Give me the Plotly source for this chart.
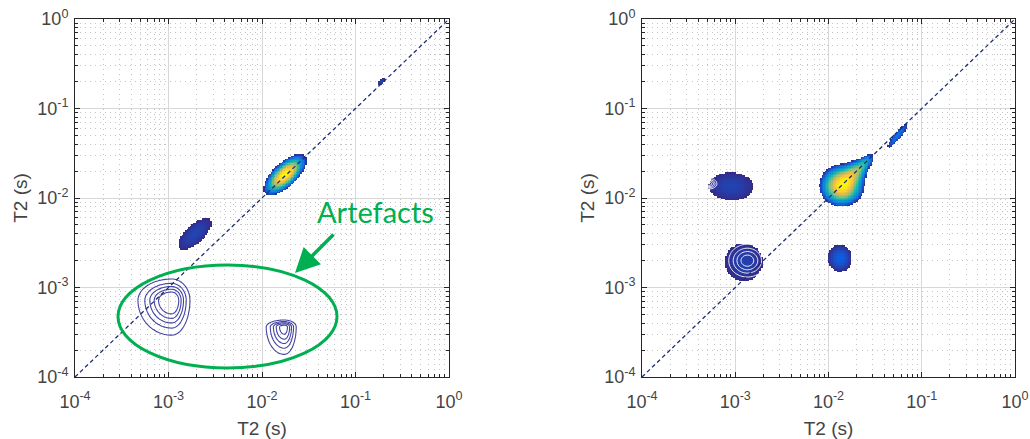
import numpy as np
import plotly.graph_objects as go

# ---------------- axis definitions ----------------
AXIS_DECADES = [-4, -3, -2, -1, 0]          # log10(T2 / s)
TICK_LABELS = ["10<sup>-4</sup>", "10<sup>-3</sup>", "10<sup>-2</sup>",
               "10<sup>-1</sup>", "10<sup>0</sup>"]
AXIS_TITLE = "T2 (s)"
DIAGONAL_T2 = [1e-4, 1.0]

# ---------------- peak components ----------------
# position in log10(T2), sigma along / across the direction "ANG" (deg), amplitude
# Left panel, filled (colour) peaks
LEFT_FILL_X = [-1.757, -2.72, -0.724]
LEFT_FILL_Y = [-1.737, -2.40, -0.700]
LEFT_FILL_SA = [0.125, 0.30, 0.057]
LEFT_FILL_SB = [0.055, 0.132, 0.036]
LEFT_FILL_ANG = [45, 45, 45]
LEFT_FILL_AMP = [1.0, 0.08, 0.08]

# Left panel, artefacts (line contours): peak position and one-sided widths
LEFT_ART_X = [-2.966, -1.761]
LEFT_ART_Y = [-3.143, -3.44]
LEFT_ART_SX_LEFT = [0.185, 0.104]
LEFT_ART_SX_RIGHT = [0.10, 0.068]
LEFT_ART_SY_DOWN = [0.20, 0.165]
LEFT_ART_SY_UP = [0.122, 0.041]
LEFT_ART_AMP = [1.0, 0.85]
ART_LEVELS = [0.15, 0.30, 0.45, 0.60, 0.75]

# Right panel, filled peaks
RIGHT_FILL_X = [-1.86, -1.74, -1.62, -1.26, -3.05, -2.91, -1.88]
RIGHT_FILL_Y = [-1.86, -1.73, -1.61, -1.30, -1.855, -2.715, -2.67]
RIGHT_FILL_SA = [0.105, 0.10, 0.08, 0.14, 0.344, 0.30, 0.135]
RIGHT_FILL_SB = [0.105, 0.06, 0.035, 0.03, 0.21, 0.314, 0.156]
RIGHT_FILL_ANG = [45, 45, 45, 52, 0, 0, 0]
RIGHT_FILL_AMP = [0.80, 0.40, 0.20, 0.125, 0.075, 0.075, 0.095]

# Right panel, white contour lines inside two dark peaks
RIGHT_LINE_X = [-2.87, -3.28]
RIGHT_LINE_Y = [-2.70, -1.84]
RIGHT_LINE_SA = [0.12, 0.05]
RIGHT_LINE_SB = [0.11, 0.035]
RIGHT_LINE_ANG = [0, 0]
RIGHT_LINE_AMP = [1.0, 1.0]

FILL_THRESHOLD = 0.06

PARULA = [[0.0, "#352a87"], [0.04, "#0f5cdd"], [0.10, "#1481d6"],
          [0.18, "#06a4ca"], [0.28, "#2eb7a4"], [0.40, "#87bf77"],
          [0.55, "#d1bb59"], [0.72, "#fec832"], [1.0, "#f9fb0e"]]

GRID = np.linspace(AXIS_DECADES[0], AXIS_DECADES[-1], 241)
GX, GY = np.meshgrid(GRID, GRID)


def surface(xs, ys, sas, sbs, angs, amps):
    z = np.zeros_like(GX)
    for cx, cy, sa, sb, ang, amp in zip(xs, ys, sas, sbs, angs, amps):
        th = np.deg2rad(ang)
        dx, dy = GX - cx, GY - cy
        u = dx * np.cos(th) + dy * np.sin(th)
        v = -dx * np.sin(th) + dy * np.cos(th)
        z += amp * np.exp(-0.5 * ((u / sa) ** 2 + (v / sb) ** 2))
    return z


def split_surface(xs, ys, sxl, sxr, syd, syu, amps):
    z = np.zeros_like(GX)
    for cx, cy, a, b, c, d, amp in zip(xs, ys, sxl, sxr, syd, syu, amps):
        dx, dy = GX - cx, GY - cy
        sx = np.where(dx < 0, a, b)
        sy = np.where(dy < 0, c, d)
        z += amp * np.exp(-0.5 * ((dx / sx) ** 2 + (dy / sy) ** 2))
    return z


def masked(z):
    zz = z.copy()
    zz[zz < FILL_THRESHOLD] = np.nan
    return zz


zl = surface(LEFT_FILL_X, LEFT_FILL_Y, LEFT_FILL_SA, LEFT_FILL_SB, LEFT_FILL_ANG, LEFT_FILL_AMP)
za = split_surface(LEFT_ART_X, LEFT_ART_Y, LEFT_ART_SX_LEFT, LEFT_ART_SX_RIGHT,
                   LEFT_ART_SY_DOWN, LEFT_ART_SY_UP, LEFT_ART_AMP)
zr = surface(RIGHT_FILL_X, RIGHT_FILL_Y, RIGHT_FILL_SA, RIGHT_FILL_SB, RIGHT_FILL_ANG, RIGHT_FILL_AMP)
zw = surface(RIGHT_LINE_X, RIGHT_LINE_Y, RIGHT_LINE_SA, RIGHT_LINE_SB, RIGHT_LINE_ANG, RIGHT_LINE_AMP)

fig = go.Figure()

fig.add_trace(go.Heatmap(x=GRID, y=GRID, z=masked(zl), colorscale=PARULA,
                         zmin=FILL_THRESHOLD, zmax=float(zl.max()), showscale=False,
                         hoverinfo="skip", xaxis="x", yaxis="y"))
art_step = ART_LEVELS[1] - ART_LEVELS[0]
fig.add_trace(go.Contour(x=GRID, y=GRID, z=za, showscale=False, hoverinfo="skip",
                         contours=dict(coloring="lines", start=ART_LEVELS[0],
                                       end=ART_LEVELS[-1], size=art_step),
                         colorscale=[[0, "#4343a3"], [1, "#4343a3"]],
                         line=dict(width=1.1), xaxis="x", yaxis="y"))

fig.add_trace(go.Heatmap(x=GRID, y=GRID, z=masked(zr), colorscale=PARULA,
                         zmin=FILL_THRESHOLD, zmax=float(zr.max()), showscale=False,
                         hoverinfo="skip", xaxis="x2", yaxis="y2"))
fig.add_trace(go.Contour(x=GRID, y=GRID, z=zw, showscale=False, hoverinfo="skip",
                         contours=dict(coloring="lines", start=0.25, end=0.9, size=0.2),
                         colorscale=[[0, "white"], [1, "white"]],
                         line=dict(width=0.9), xaxis="x2", yaxis="y2"))

diag = np.log10(DIAGONAL_T2)
for xa, ya in (("x", "y"), ("x2", "y2")):
    fig.add_trace(go.Scatter(x=diag, y=diag, mode="lines", hoverinfo="skip",
                             line=dict(color="#1c2f72", width=1.3, dash="4px,3px"),
                             xaxis=xa, yaxis=ya, showlegend=False))

MINOR = [float(np.log10(k * 10.0 ** n)) for n in AXIS_DECADES[:-1] for k in range(2, 10)]
FONT = "Liberation Sans, Arial, sans-serif"


def axis_style(domain, anchor, is_x):
    return dict(domain=domain, anchor=anchor, range=[AXIS_DECADES[0], AXIS_DECADES[-1]],
                tickvals=AXIS_DECADES, ticktext=TICK_LABELS, showline=True, mirror="ticks",
                linecolor="#262626", linewidth=1, ticks="inside", ticklen=5,
                tickcolor="#262626", showgrid=True, gridcolor="#d8d8d8", gridwidth=1,
                zeroline=False, fixedrange=True, automargin=False,
                ticklabelstandoff=8 if is_x else 2,
                tickfont=dict(family=FONT, size=18, color="#444444"),
                title=dict(text=AXIS_TITLE, font=dict(family=FONT, size=19, color="#444444"),
                           standoff=12 if is_x else 4),
                minor=dict(tickvals=MINOR, showgrid=True, griddash="1px,4px",
                           gridcolor="#c4c4c4", gridwidth=1, ticks="inside",
                           ticklen=3, tickcolor="#262626"))


W, H = 1030, 439
ydom = [(H - 377) / H, (H - 19) / H]
fig.update_layout(
    width=W, height=H, margin=dict(l=0, r=0, t=0, b=0),
    paper_bgcolor="white", plot_bgcolor="white", showlegend=False,
    xaxis=axis_style([75 / W, 449 / W], "y", True),
    yaxis=axis_style(ydom, "x", False),
    xaxis2=axis_style([642 / W, 1015 / W], "y2", True),
    yaxis2=axis_style(ydom, "x2", False),
    shapes=[dict(type="circle", xref="paper", yref="paper",
                 x0=118 / W, x1=337 / W, y0=1 - 368 / H, y1=1 - 265 / H,
                 line=dict(color="#00b050", width=3))],
    annotations=[
        dict(text="Artefacts", xref="paper", yref="paper", x=375 / W, y=1 - 212 / H,
             showarrow=False, font=dict(family="Lato, Carlito, sans-serif", size=29,
                                        color="#00b050"), xanchor="center", yanchor="middle"),
        dict(text="", xref="paper", yref="paper", x=295 / W, y=1 - 273 / H,
             ax=40, ay=-40, showarrow=True, arrowhead=2, arrowsize=1.4,
             arrowwidth=3.5, arrowcolor="#00b050"),
    ],
)

fig.write_html("out.html", config={"displayModeBar": False},
               post_script="document.body.style.margin='0px';document.body.style.overflow='hidden';")
